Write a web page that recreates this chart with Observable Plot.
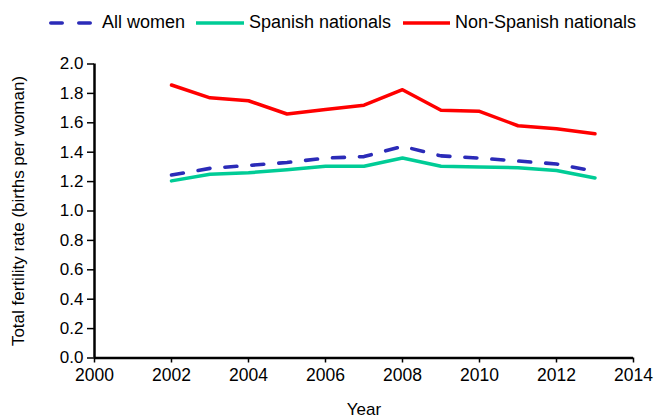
<!DOCTYPE html>
<html>
<head>
<meta charset="utf-8">
<script src="https://cdn.jsdelivr.net/npm/d3@7"></script>
<script src="https://cdn.jsdelivr.net/npm/@observablehq/plot@0.6"></script>
<style>
  body { margin: 0; background: #fff; font-family: "Liberation Sans", Arial, sans-serif; }
  #legend { height: 40px; position: relative; font-size: 18px; color: #000; }
  .sample { position: absolute; top: 15px; }
  .label { position: absolute; top: 12px; line-height: 20px; white-space: nowrap; }
</style>
</head>
<body>
<div id="legend"></div>
<div id="chart"></div>
<script>
const years = [2002, 2003, 2004, 2005, 2006, 2007, 2008, 2009, 2010, 2011, 2012, 2013];
const allWomen = [1.245, 1.29, 1.31, 1.33, 1.36, 1.37, 1.44, 1.375, 1.36, 1.34, 1.32, 1.27];
const spanish = [1.205, 1.25, 1.26, 1.28, 1.305, 1.305, 1.36, 1.305, 1.30, 1.295, 1.275, 1.225];
const nonSpanish = [1.857, 1.77, 1.75, 1.66, 1.69, 1.72, 1.825, 1.685, 1.678, 1.58, 1.56, 1.525];
const seriesNames = ["All women", "Spanish nationals", "Non-Spanish nationals"];
const seriesColors = ["#2b2bb8", "#00cc96", "#ff0000"];
const xTicks = [2000, 2002, 2004, 2006, 2008, 2010, 2012, 2014];
const yTicks = [0, 0.2, 0.4, 0.6, 0.8, 1.0, 1.2, 1.4, 1.6, 1.8, 2.0];
const xTitle = "Year";
const yTitle = "Total fertility rate (births per woman)";

const seriesValues = [allWomen, spanish, nonSpanish];
const data = [];
seriesNames.forEach((name, i) => {
  years.forEach((yr, j) => data.push({series: name, year: yr, value: seriesValues[i][j]}));
});

const chart = Plot.plot({
  width: 654,
  height: 379,
  marginLeft: 94,
  marginRight: 21,
  marginTop: 23.5,
  marginBottom: 61.5,
  style: {fontFamily: "Liberation Sans, Arial, sans-serif", fontSize: "17px", color: "#000", background: "#fff", overflow: "visible"},
  x: {domain: [2000, 2014], label: null},
  y: {domain: [0, 2], label: null},
  marks: [
    Plot.axisX({ticks: xTicks, tickFormat: d => String(d), tickSize: 5, tickPadding: 6, strokeWidth: 1.5, fontSize: 17.5, label: null}),
    Plot.axisY({ticks: yTicks, tickFormat: d => d.toFixed(1), tickSize: 7, tickPadding: 4, strokeWidth: 1.5, fontSize: 17, label: null}),
    Plot.ruleX([2000], {y1: 0, y2: 2, stroke: "#000", strokeWidth: 2.5}),
    Plot.ruleY([0], {x1: 2000, x2: 2014, stroke: "#000", strokeWidth: 2.5}),
    Plot.line(data.filter(d => d.series === seriesNames[1]), {x: "year", y: "value", stroke: seriesColors[1], strokeWidth: 3.5}),
    Plot.line(data.filter(d => d.series === seriesNames[2]), {x: "year", y: "value", stroke: seriesColors[2], strokeWidth: 3.5}),
    Plot.line(data.filter(d => d.series === seriesNames[0]), {x: "year", y: "value", stroke: seriesColors[0], strokeWidth: 3.6, strokeDasharray: "12,15", strokeLinecap: "round"}),
    Plot.text([xTitle], {frameAnchor: "bottom", lineAnchor: "middle", dy: 52, fontSize: 17}),
    Plot.text([yTitle], {frameAnchor: "left", textAnchor: "middle", lineAnchor: "middle", dx: -76, rotate: -90, fontSize: 17})
  ]
});
document.getElementById("chart").appendChild(chart);

// legend
const legend = document.getElementById("legend");
const sampleX = [[49, 92], [196, 244], [403, 450]];
const labelX = [102, 249, 455];
const ns = "http://www.w3.org/2000/svg";
seriesNames.forEach((name, i) => {
  const s = document.createElementNS(ns, "svg");
  s.setAttribute("class", "sample");
  s.setAttribute("width", 60); s.setAttribute("height", 16);
  s.style.left = (sampleX[i][0] - 4) + "px";
  const l = document.createElementNS(ns, "line");
  l.setAttribute("x1", i === 0 ? 5.8 : 4); l.setAttribute("x2", sampleX[i][1] - sampleX[i][0] + 4 - (i === 0 ? 1.8 : 0));
  l.setAttribute("y1", 8); l.setAttribute("y2", 8);
  l.setAttribute("stroke", seriesColors[i]); l.setAttribute("stroke-width", 3.6);
  if (i === 0) { l.setAttribute("stroke-dasharray", "11.4,16.6"); l.setAttribute("stroke-linecap", "round"); }
  s.appendChild(l);
  legend.appendChild(s);
  const t = document.createElement("span");
  t.className = "label";
  t.style.left = labelX[i] + "px";
  t.textContent = name;
  legend.appendChild(t);
});
</script>
</body>
</html>
